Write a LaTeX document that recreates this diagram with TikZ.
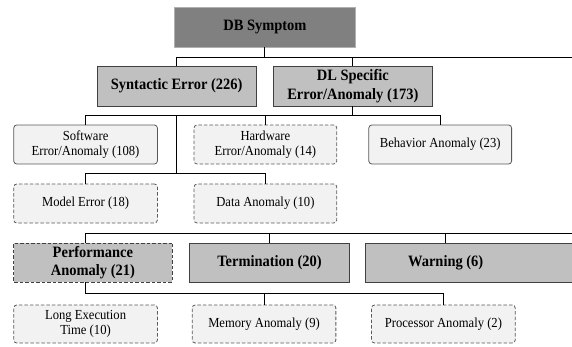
\documentclass[tikz,border=0pt]{standalone}
\usepackage{fontspec}
\setmainfont{Liberation Serif}
\newfontfamily\tnr{Liberation Serif}
\definecolor{cdark}{HTML}{808080}
\definecolor{cdarkline}{HTML}{B0B0B0}
\definecolor{cmid}{HTML}{C0C0C0}
\definecolor{cmidline}{HTML}{404040}
\definecolor{clight}{HTML}{F2F2F2}
\definecolor{clightline}{HTML}{595959}
\tikzset{
  box/.style={draw, line width=0.8bp, inner sep=0pt, align=center, text=black, transform shape},
  topbox/.style={box, fill=cdark, draw=cdarkline, font=\tnr\bfseries\fontsize{15.8bp}{18.3bp}\selectfont},
  midbox/.style={box, fill=cmid, draw=cmidline, font=\tnr\bfseries\fontsize{15.8bp}{18.3bp}\selectfont},
  leafbox/.style={box, fill=clight, draw=clightline, rounded corners=3bp, font=\tnr\fontsize{13.8bp}{15.5bp}\selectfont},
  dashbox/.style={dash pattern=on 3.5bp off 2bp},
  conn/.style={draw=black, line width=0.9bp},
  sz/.style 2 args={minimum width=#1bp, minimum height=#2bp}
}
\begin{document}
\begin{tikzpicture}[x=1bp,y=-1bp,xscale=0.9152]
\useasboundingbox (0,0) rectangle (625,347);
\fill[white] (0,0) rectangle (625,347);
\clip (0,0) rectangle (625,347);
% level 0
\node[topbox, sz={197}{40}] (db) at (289.5,27) {DB Symptom};
% level 1
\node[midbox, sz={174}{40}] (syn) at (193,86) {Syntactic Error (226)};
\node[midbox, sz={173}{40}] (dl) at (385.5,86) {DL Specific\\Error/Anomaly (173)};
% level 2
\node[leafbox, sz={157}{39}] (sw) at (93.5,144.5) {Software\\Error/Anomaly (108)};
\node[leafbox, dashbox, sz={156}{39}] (hw) at (290,144.5) {Hardware\\Error/Anomaly (14)};
\node[leafbox, sz={156}{39}] (beh) at (481,144.5) {Behavior Anomaly (23)};
\node[leafbox, dashbox, sz={157}{39}] (model) at (93.5,203.5) {Model Error (18)};
\node[leafbox, dashbox, sz={156}{39}] (data) at (290,203.5) {Data Anomaly (10)};
% level 3
\node[midbox, dashbox, sz={173}{39}] (perf) at (101.5,262.5) {Performance\\Anomaly (21)};
\node[midbox, sz={175}{39}] (term) at (294.5,262.5) {Termination (20)};
\node[midbox, sz={241}{39}] (warn) at (519.5,262.5) {\hspace*{-65bp}Warning (6)};
% level 4
\node[leafbox, dashbox, sz={157}{38}] (long) at (93.5,324) {Long Execution\\Time (10)};
\node[leafbox, dashbox, sz={157}{38}] (mem) at (288.5,324) {Memory Anomaly (9)};
\node[leafbox, dashbox, sz={157}{38}] (proc) at (484.5,324) {Processor Anomaly (2)};
% junction levels
\coordinate (h0) at (0,57);
\coordinate (e0) at (640,57);
\coordinate (h1) at (0,115.5);
\coordinate (h2) at (0,173);
\coordinate (h3) at (0,233);
\coordinate (e3) at (640,233);
\coordinate (h4) at (0,293);
% connectors
\draw[conn] (db.south) -- (db.south |- h0);
\draw[conn] (syn.north) |- (e0);
\draw[conn] (dl.north) -- (dl.north |- h0);
\draw[conn] (dl.south) -- (dl.south |- h1);
\draw[conn] (sw.north) |- (h1 -| beh.north) -- (beh.north);
\draw[conn] (hw.north) -- (hw.north |- h1);
\draw[conn] (h1 -| syn.south) -- (h2 -| syn.south);
\draw[conn] (model.north) |- (h2 -| data.north) -- (data.north);
\draw[conn] (perf.north -| model.south) |- (e3);
\draw[conn] (term.north) -- (term.north |- h3);
\draw[conn] ([xshift=-33bp]warn.north) -- ([xshift=-33bp]warn.north |- h3);
\draw[conn] (perf.south -| long.north) |- (h4 -| proc.north) -- (proc.north);
\draw[conn] (mem.north) -- (mem.north |- h4);
\end{tikzpicture}
\end{document}
